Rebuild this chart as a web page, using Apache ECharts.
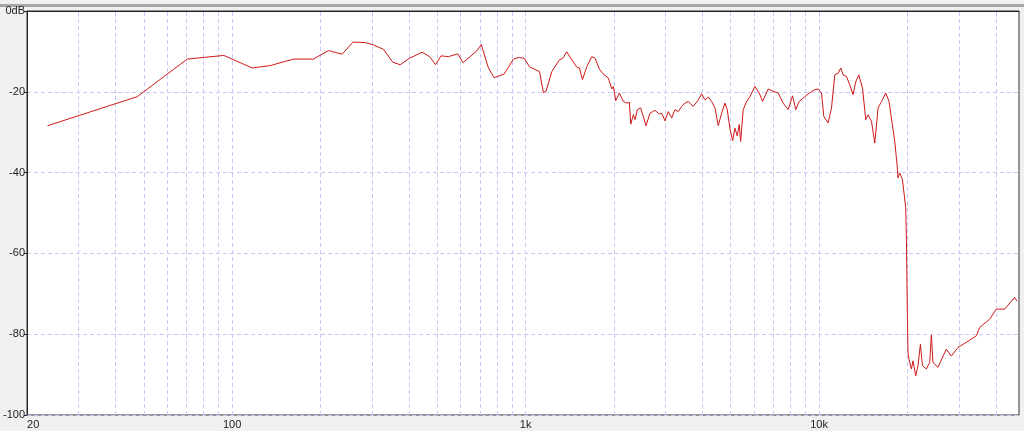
<!DOCTYPE html>
<html>
<head>
<meta charset="utf-8">
<script src="https://cdn.jsdelivr.net/npm/echarts@6/dist/echarts.min.js"></script>
<style>
html,body{margin:0;padding:0;background:#f0f0f0;}
#c{width:1024px;height:431px;}
</style>
</head>
<body>
<div id="c"></div>
<script>
// Frequency (Hz) and level (dB)
const freqHz = [
  23.5, 47.5, 70.3, 93.7, 117, 135, 162, 189, 213, 237,
  258, 284, 303, 328, 353, 374, 402, 444, 471, 493,
  515, 546, 588, 612, 683, 706, 747, 781, 845, 909,
  945, 989, 1031, 1115, 1150, 1175, 1228, 1304, 1339, 1381,
  1426, 1494, 1525, 1562, 1616, 1681, 1725, 1784, 1851, 1914,
  1966, 1991, 2029, 2087, 2110, 2153, 2211, 2257, 2282, 2329,
  2360, 2403, 2467, 2518, 2572, 2654, 2760, 2855, 2909, 2985,
  3063, 3146, 3229, 3313, 3403, 3492, 3584, 3727, 3876, 3981,
  4085, 4192, 4305, 4418, 4533, 4656, 4778, 4865, 4969, 5075,
  5167, 5261, 5344, 5403, 5514, 5662, 5811, 6044, 6251, 6420,
  6707, 6975, 7254, 7544, 7845, 8121, 8333, 8551, 8942, 9426,
  9672, 9925, 10190, 10378, 10542, 10735, 11024, 11314, 11610, 11858,
  12073, 12400, 12724, 13058, 13338, 13655, 14057, 14425, 14689, 15085,
  15481, 15887, 16316, 16876, 17317, 18108, 18437, 18578, 18828, 19231,
  19733, 19843, 20000, 20093, 20251, 20633, 20895, 21338, 21730, 22144,
  22494, 23209, 23816, 24136, 24441, 25416, 27145, 28229, 29729, 31759,
  34348, 35254, 38128, 40181, 42874, 46370, 47221
];
const levelDb = [
  -28.4, -21.2, -11.9, -11.0, -14.1, -13.5, -11.9, -11.9, -9.8, -10.7,
  -7.7, -7.8, -8.4, -9.5, -12.7, -13.3, -11.7, -10.2, -11.3, -13.3,
  -11.1, -11.3, -10.6, -12.8, -9.8, -8.3, -14.1, -16.5, -15.6, -11.9,
  -11.5, -11.7, -13.8, -15.0, -20.2, -19.8, -15.0, -12.1, -11.7, -10.1,
  -11.7, -13.9, -14.1, -17.0, -13.8, -11.3, -11.7, -14.4, -15.8, -16.6,
  -19.3, -18.7, -22.2, -20.3, -20.1, -22.4, -22.8, -22.6, -28.0, -25.7,
  -26.9, -24.4, -24.0, -26.1, -28.4, -25.3, -24.6, -25.5, -25.3, -27.2,
  -24.9, -26.5, -24.4, -24.9, -23.6, -22.8, -22.4, -23.6, -22.0, -20.5,
  -22.0, -21.3, -22.4, -24.0, -28.4, -25.3, -22.8, -24.4, -29.2, -32.1,
  -29.0, -30.9, -28.1, -32.3, -24.4, -22.4, -21.2, -18.7, -20.3, -22.4,
  -19.3, -19.9, -20.3, -22.8, -24.4, -21.0, -24.4, -22.4, -21.2, -19.9,
  -19.5, -19.3, -20.3, -26.1, -25.7, -27.7, -24.0, -15.8, -15.4, -14.1,
  -15.8, -16.2, -18.3, -20.7, -17.5, -15.8, -19.1, -26.9, -25.7, -27.3,
  -32.7, -24.0, -22.4, -20.3, -22.4, -32.3, -38.0, -41.3, -40.1, -41.7,
  -48.7, -56.5, -75.9, -84.5, -86.2, -88.6, -86.6, -90.3, -87.8, -82.5,
  -87.8, -88.6, -87.0, -80.2, -87.0, -88.2, -83.7, -85.4, -83.3, -82.0,
  -80.4, -78.3, -76.3, -73.8, -73.8, -70.9, -71.8
];
const xLabelValues = [20, 100, 1000, 10000];
const xGridValues = [30, 40, 50, 60, 70, 80, 90, 100, 200, 300, 400, 500, 600, 700, 800, 900,
  1000, 2000, 3000, 4000, 5000, 6000, 7000, 8000, 9000, 10000, 20000, 30000, 40000];
const yTicks = [0, -20, -40, -60, -80, -100];

const n = Math.min(freqHz.length, levelDb.length);
const seriesData = [];
for (let i = 0; i < n; i++) seriesData.push([freqHz[i], levelDb[i]]);

const chart = echarts.init(document.getElementById('c'), null, {renderer: 'canvas'});
const font = 'Liberation Sans';
const gridColor = '#c8c8f8';
chart.setOption({
  animation: false,
  backgroundColor: '#f0f0f0',
  graphic: [
    {type: 'rect', left: 0, top: 4, shape: {width: 1024, height: 3}, style: {fill: '#a6a6a6'}, silent: true}
  ],
  grid: {left: 26, right: 5, top: 11, bottom: 16, show: true, backgroundColor: '#ffffff', borderColor: '#333333', borderWidth: 1},
  xAxis: {
    type: 'log', logBase: 10, min: 20, max: 48000,
    axisLine: {show: true, lineStyle: {color: '#222222', width: 1}},
    axisTick: {show: true, customValues: [20].concat(xGridValues), length: 3, inside: false, lineStyle: {color: '#222222'}},
    axisLabel: {
      show: true, customValues: xLabelValues, margin: 4,
      fontFamily: font, fontSize: 11, color: '#222222',
      alignMinLabel: 'left',
      formatter: function (v) { return v >= 1000 ? (v / 1000) + 'k' : String(v); }
    },
    splitLine: {show: false},
    minorTick: {show: false}
  },
  yAxis: {
    type: 'value', min: -100, max: 0, interval: 20,
    axisLine: {show: true, lineStyle: {color: '#222222', width: 1}},
    axisTick: {show: true, length: 3, lineStyle: {color: '#222222'}},
    axisLabel: {
      show: true, margin: 2, fontFamily: font, fontSize: 11, color: '#222222',
      formatter: function (v) { return v === 0 ? '0dB' : String(v); }
    },
    splitLine: {show: true, lineStyle: {color: gridColor, type: [4, 3], width: 1}}
  },
  series: [{
    type: 'line',
    data: seriesData,
    showSymbol: false,
    symbol: 'none',
    z: 3,
    lineStyle: {color: '#d01818', width: 1},
    markLine: {
      z: 1,
      silent: true,
      symbol: ['none', 'none'],
      label: {show: false},
      lineStyle: {color: gridColor, type: [4, 3], width: 1},
      emphasis: {disabled: true},
      data: xGridValues.map(function (v) { return {xAxis: v}; })
    }
  }]
});
</script>
</body>
</html>
